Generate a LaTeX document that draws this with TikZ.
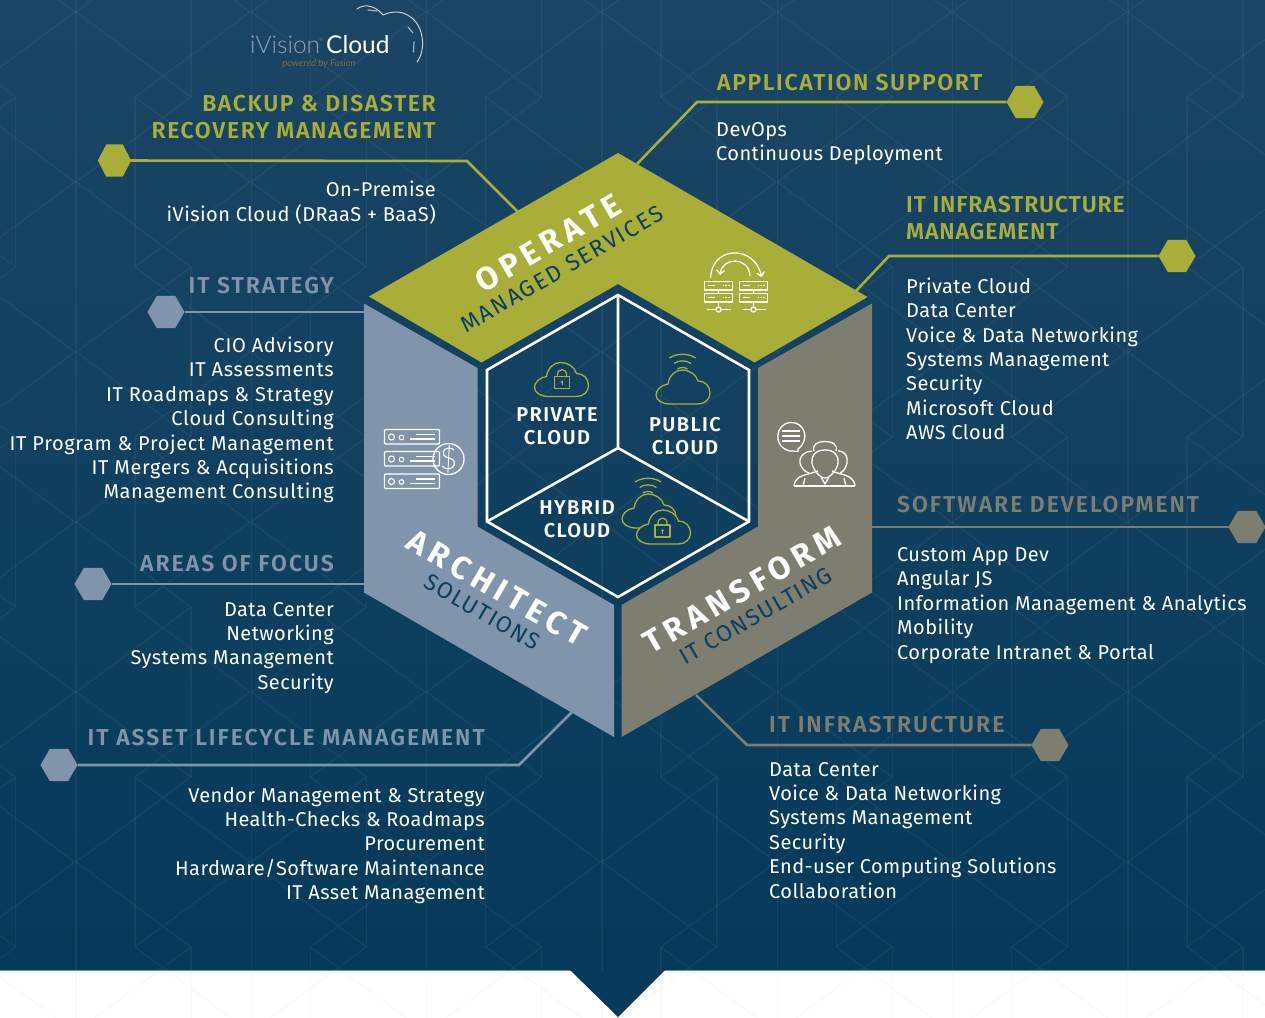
\documentclass[tikz,border=0pt]{standalone}
\usepackage{fontspec}
\setmainfont{Fira Sans}
\newfontfamily\bodyf[LetterSpace=2.2]{Fira Sans}
\newfontfamily\bodyw[LetterSpace=3.2]{Fira Sans}
\newfontfamily\headf[LetterSpace=7]{Fira Sans SemiBold}
\newfontfamily\headn[LetterSpace=3.7]{Fira Sans SemiBold}
\newfontfamily\headg[LetterSpace=8.5]{Fira Sans SemiBold}
\newfontfamily\bigf[LetterSpace=17]{Fira Sans Bold}
\newfontfamily\smallf[LetterSpace=6.5]{Fira Sans}
\newfontfamily\smallw[LetterSpace=8]{Fira Sans}
\newfontfamily\logof{Lato Light}
\newfontfamily\logob{Lato}
\usetikzlibrary{arrows.meta,calc,shapes.geometric}
\definecolor{bgtop}{HTML}{1B4565}
\definecolor{bgbot}{HTML}{053A5A}
\definecolor{bgmid}{HTML}{0F3F5F}
\definecolor{seam}{HTML}{6F93A8}
\definecolor{olive}{HTML}{A8AE37}
\definecolor{slateb}{HTML}{8095AB}
\definecolor{stone}{HTML}{7E7E70}
\definecolor{darkt}{HTML}{0B3F60}
\definecolor{logog}{HTML}{8FA3B5}
\definecolor{logoo}{HTML}{8A6A3C}
\tikzset{
  x=1pt,y=-1pt,
  bodyt/.style={font=\bodyf\fontsize{20}{24.4}\selectfont,text=white,inner sep=0pt},
  bodyv/.style={font=\bodyw\fontsize{20}{24.4}\selectfont,text=white,inner sep=0pt},
  headt/.style={font=\headf\fontsize{23}{27.5}\selectfont,inner sep=0pt},
  headnar/.style={font=\headn\fontsize{23}{27.5}\selectfont,inner sep=0pt},
  headgr/.style={font=\headg\fontsize{23}{27.5}\selectfont,inner sep=0pt},
  rightb/.style={anchor=base east,align=right},
  leftb/.style={anchor=base west,align=left},
  capm/.style={font=\headf\fontsize{20}{22.5}\selectfont,text=white,inner sep=0pt,align=center,anchor=center},
  bigt/.style={font=\bigf\fontsize{32}{32}\selectfont,text=white,inner sep=0pt},
  smallt/.style={font=\smallf\fontsize{23}{23}\selectfont,text=darkt,inner sep=0pt},
  conn/.style={line width=2.6pt,line join=miter},
  hexn/.style={regular polygon,regular polygon sides=6,minimum size=37pt,inner sep=0pt,outer sep=0pt},
  wic/.style={draw=white,line width=1.3pt,fill=none,line join=round},
  oic/.style={draw=olive,line width=1.3pt,fill=none,line join=round},
  cloudbg/.style={},
  cloudicon/.pic={
    \draw[oic,cloudbg] (14,34) -- (42,34) .. controls (49,34) and (54,29) .. (54,23)
      .. controls (54,16) and (49,11) .. (42,11)
      .. controls (40,4) and (33,0) .. (26,0)
      .. controls (19,0) and (13,6) .. (12,14)
      .. controls (5,15) and (0,20) .. (0,25)
      .. controls (0,30) and (6,34) .. (14,34) -- cycle;
  },
  lockicon/.pic={
    \draw[oic] (0,7) rectangle (15,19);
    \draw[oic] (3,7) -- (3,5) .. controls (3,-1.5) and (12,-1.5) .. (12,5) -- (12,7);
    \fill[olive] (7.5,12.5) circle (1.4);
    \draw[olive,line width=1pt] (7.5,12.5) -- (7.5,15.5);
  },
  waveicon/.pic={
    \draw[oic] (-13,4) .. controls (-6,-1) and (6,-1) .. (13,4);
    \draw[oic] (-8.5,9.5) .. controls (-4,6) and (4,6) .. (8.5,9.5);
    \draw[oic] (-5,15) .. controls (-2,13) and (2,13) .. (5,15);
  },
  rackicon/.pic={
    \draw[draw=white,line width=1.2pt,rounded corners=1pt] (0,0) rectangle (55,14.5);
    \draw[white,line width=1.1pt] (7,7.5) circle (3) (17,8) circle (2.3);
    \draw[white,line width=1.1pt] (25,9.5) -- (50,9.5) (31,5) -- (50,5);
  },
  srvicon/.pic={
    \draw[wic] (0,0) rectangle (28,8.5) (0,12) rectangle (28,20.5) (14,8.5) -- (14,12) (14,20.5) -- (14,25.5);
    \draw[white,line width=1.5pt] (3,4.2) -- (10,4.2) (3,16.2) -- (10,16.2);
    \draw[white,line width=1.5pt,dash pattern=on 1.6pt off 1.2pt] (18,4.2) -- (25,4.2) (18,16.2) -- (25,16.2);
    \draw[wic] (14,28) circle (2.5);
    \draw[wic] (2,28) -- (11.5,28) (16.5,28) -- (26,28);
  }
}
\newcommand{\lozenges}[1]{%
  \foreach \k in {-1,...,7}{\foreach \n in {-1,...,6}{%
    \pgfmathsetmacro{\cx}{163+175.3*\k}\pgfmathsetmacro{\cy}{97+170*\n}%
    \draw[#1] ({\cx-28},\cy) -- ({\cx+87},{\cy-85}) ({\cx-28},\cy) -- ({\cx+87},{\cy+85})
      ({\cx+28},\cy) -- ({\cx-87},{\cy-85}) ({\cx+28},\cy) -- ({\cx-87},{\cy+85});
    \pgfmathtruncatemacro{\myodd}{mod(\k+\n+20,2)}%
    \ifnum\myodd=0
      \draw[#1] ({\cx-28},\cy) -- ({\cx-28},{\cy+170});
    \else
      \draw[#1] ({\cx+28},\cy) -- ({\cx+28},{\cy+170});
    \fi
  }}%
  \foreach \k in {-1,...,7}{\pgfmathsetmacro{\vx}{76+175.3*\k}\draw[#1] (\vx,-5) -- (\vx,1025);}%
}
\begin{document}
\begin{tikzpicture}
\useasboundingbox (0,0) rectangle (1265,1017);
% background
\fill[white] (0,0) rectangle (1265,1017);
\begin{scope}
  \clip (0,970) rectangle (1265,1017);
  \lozenges{draw=black!2.5,line width=1.2pt}
\end{scope}
\shade[top color=bgtop,bottom color=bgbot] (0,0) rectangle (1265,970);
\fill[bgbot] (570,970) -- (618,1017) -- (665,970) -- cycle;
\draw[seam,line width=1pt] (0,970) -- (570,970) (665,970) -- (1265,970);
\begin{scope}
  \clip (0,0) rectangle (1265,970);
  \lozenges{draw=white,opacity=.05,line width=1.4pt}
\end{scope}
% connectors
\node[hexn,fill=olive,xscale=.9,transform shape] (hb) at (114.5,160.5) {};
\node[hexn,fill=olive] (ha) at (1025,102) {};
\node[hexn,fill=olive] (hm) at (1177,256) {};
\node[hexn,fill=slateb] (hs) at (166,312) {};
\node[hexn,fill=slateb] (hf) at (93,584) {};
\node[hexn,fill=slateb] (hl) at (59,765) {};
\node[hexn,fill=stone] (hd) at (1247,527) {};
\node[hexn,fill=stone] (hi) at (1050,745) {};
\coordinate (b1) at (467,161); \coordinate (b2) at (518,212);
\coordinate (a1) at (697,102); \coordinate (a2) at (637,164);
\coordinate (m1) at (889,256); \coordinate (m2) at (856,291);
\coordinate (s1) at (364,312);
\coordinate (f1) at (364,584);
\coordinate (l1) at (519,765); \coordinate (l2) at (572,712);
\coordinate (d1) at (872,527);
\coordinate (i1) at (747,745); \coordinate (i2) at (696,695);
\draw[conn,olive] (hb) -- (b1) -- (b2);
\draw[conn,olive] (ha) -- (a1) -- (a2);
\draw[conn,olive] (hm) -- (m1) -- (m2);
\draw[conn,slateb] (hs) -- (s1);
\draw[conn,slateb] (hf) -- (f1);
\draw[conn,slateb] (hl) -- (l1) -- (l2);
\draw[conn,stone] (hd) -- (d1);
\draw[conn,stone] (hi) -- (i1) -- (i2);
% hexagon panels
\fill[olive] (618,153) -- (867.5,297) -- (754.5,362.5) -- (618,284) -- (481.5,362.5) -- (369,296.5) -- cycle;
\fill[slateb] (364,303.5) -- (477.5,368) -- (477.5,526.5) -- (614,605) -- (614,737) -- (364,592.5) -- cycle;
\fill[stone] (872,303.5) -- (758,368) -- (758,526.5) -- (621.5,605) -- (621.5,737) -- (872,592.5) -- cycle;
% inner hexagon
\draw[white,line width=2.6pt,line join=miter] (618,295) -- (749,370) -- (749,521.5) -- (618,597) -- (487,521.5) -- (487,370) -- cycle;
\draw[white,line width=2.6pt] (618,295) -- (618,448) (487,521.5) -- (618,448) -- (749,521.5);
% panel texts
\node[bigt,rotate=30] (tOp) at (548,243) {OPERATE};
\node[smallt,font=\smallw\fontsize{23}{23}\selectfont,rotate=30] (tMs) at (562,269) {MANAGED SERVICES};
\node[bigt,rotate=-30] (tAr) at (497,588) {ARCHITECT};
\node[smallt,rotate=-30] (tSo) at (482,612) {SOLUTIONS};
\node[bigt,rotate=30] (tTr) at (742,590) {TRANSFORM};
\node[smallt,rotate=30] (tIc) at (756,616) {IT CONSULTING};
\node[capm] (cPr) at (557,426) {PRIVATE\\CLOUD};
\node[capm] (cPu) at (685,436) {PUBLIC\\CLOUD};
\node[capm] (cHy) at (577,519) {HYBRID\\CLOUD};
% cloud icons
\pic at (534.5,362.5) {cloudicon};
\pic at (554.5,369.5) {lockicon};
\pic at (656,370) {cloudicon};
\pic at (682.5,354) {waveicon};
\pic at (622,494) {cloudicon};
\pic[cloudbg/.style={fill=bgmid}] at (636.5,510) {cloudicon};
\pic at (655,518) {lockicon};
\pic at (648,478) {waveicon};
% server swap icon
\pic at (704.5,281.5) {srvicon};
\pic at (739.5,281.5) {srvicon};
\draw[wic,-{Straight Barb[length=4pt,width=8pt]}] (710.5,278) .. controls (712,245) and (755,245) .. (761.5,277);
\draw[wic,-{Straight Barb[length=4pt,width=8pt]}] (750,276) .. controls (749,256) and (722,257) .. (720,275);
% rack + dollar icon
\pic at (384.5,429.5) {rackicon};
\pic at (384.5,451.5) {rackicon};
\pic at (384.5,474) {rackicon};
\draw[wic] (448.5,459) circle (15.5);
\node[font=\logof\fontsize{30}{30}\selectfont,text=white,inner sep=0pt] (dlr) at (448.5,459) {\$};
% people icon
\draw[wic] (798,451.5) -- (798,449) .. controls (811,439) and (804,422) .. (791,422.5)
  .. controls (775,423) and (772,447) .. (790,451) -- (793,451) -- cycle;
\draw[white,line width=1.2pt] (782,431) -- (800,431) (782,436) -- (800,436) (782,441) -- (800,441);
\draw[wic] (794,486) -- (855,486);
\draw[wic] (794,486) .. controls (795,478) and (800,476) .. (810,473.5) -- (818,471);
\draw[wic] (855,486) .. controls (854,478) and (849,476) .. (839,473.5) -- (832,471);
\draw[wic] (825,450) .. controls (815,450) and (811,456) .. (812,463)
  .. controls (813,470) and (820,478) .. (825,478) .. controls (830,478) and (837,470) .. (838,463)
  .. controls (839,456) and (835,450) .. (825,450) -- cycle;
\draw[wic] (812,451) .. controls (805,451) and (799,456) .. (800,463) .. controls (801,468) and (805,472) .. (809,473);
\draw[wic] (838,451) .. controls (845,451) and (848,456) .. (847,463) .. controls (846,468) and (843,472) .. (840,473);
\draw[wic] (814,451) .. controls (812,444) and (818,441.5) .. (825,441.5) .. controls (832,441.5) and (838,444) .. (836,451);
\draw[wic] (821,477) -- (825,484) -- (829,477);
\draw[wic] (803,486) -- (805,478) (846,486) -- (844,478);
% logo
\node[font=\logof\fontsize{24.5}{24.5}\selectfont,text=logog,inner sep=0pt,anchor=base west] (lg1) at (250,53) {iVision};
\node[font=\logof\fontsize{5}{5}\selectfont,text=logog,inner sep=0pt,anchor=base west] (lg2) at (319,41) {®};
\node[font=\logob\fontsize{24.5}{24.5}\selectfont,text=white,inner sep=0pt,anchor=base west] (lg3) at (326,53) {Cloud};
\node[font=\logob\itshape\fontsize{9.5}{9.5}\selectfont,text=logoo,inner sep=0pt,anchor=base] (lg4) at (319,66) {powered by Fusion};
\draw[white!75!bgtop,line width=1pt,line cap=round] (357,9) .. controls (362,5) and (373,3) .. (383,15)
  .. controls (392,11) and (402,10) .. (412,18) .. controls (424,28) and (426,50) .. (417,62);
\draw[white!60!bgtop,line width=1.2pt,line cap=round] (368,10) -- (377,11) (408,27) -- (413,33) (414,42) -- (413.5,52);
% headings
\node[headt,text=olive,rightb] (t1) at (436,138.5) {BACKUP \& DISASTER\\RECOVERY MANAGEMENT};
\node[headt,text=olive,leftb] (t2) at (717,90) {APPLICATION SUPPORT};
\node[headnar,text=olive,leftb] (t3) at (906,239.5) {IT INFRASTRUCTURE\\MANAGEMENT};
\node[headgr,text=slateb,rightb] (t4) at (334,293) {IT STRATEGY};
\node[headgr,text=slateb,rightb] (t5) at (334,571) {AREAS OF FOCUS};
\node[headgr,text=slateb,rightb] (t6) at (485,745) {IT ASSET LIFECYCLE MANAGEMENT};
\node[headgr,text=stone,leftb] (t7) at (897,512) {SOFTWARE DEVELOPMENT};
\node[headgr,text=stone,leftb] (t8) at (769,732) {IT INFRASTRUCTURE};
% bodies
\node[bodyt,rightb] (b1t) at (436,221) {On-Premise\\iVision Cloud (DRaaS + BaaS)};
\node[bodyt,leftb] (b2t) at (716,160.4) {DevOps\\Continuous Deployment};
\node[bodyt,leftb] (b3t) at (906,439.6) {Private Cloud\\Data Center\\Voice \& Data Networking\\Systems Management\\Security\\Microsoft Cloud\\AWS Cloud};
\node[bodyv,rightb] (b4t) at (334,498.9) {CIO Advisory\\IT Assessments\\IT Roadmaps \& Strategy\\Cloud Consulting\\IT Program \& Project Management\\IT Mergers \& Acquisitions\hspace{5pt}\\Management Consulting};
\node[bodyt,rightb] (b5t) at (334,689.2) {Data Center\\Networking\\Systems Management\\Security};
\node[bodyt,rightb] (b6t) at (485,899.6) {Vendor Management \& Strategy\\Health-Checks \& Roadmaps\\Procurement\\Hardware/Software Maintenance\\IT Asset Management};
\node[bodyt,leftb] (b7t) at (897,659) {Custom App Dev\\Angular JS\\Information Management \& Analytics\\Mobility\\Corporate Intranet \& Portal};
\node[bodyt,leftb] (b8t) at (769,898) {Data Center\\Voice \& Data Networking\\Systems Management\\Security\\End-user Computing Solutions\\Collaboration};
\end{tikzpicture}
\end{document}
